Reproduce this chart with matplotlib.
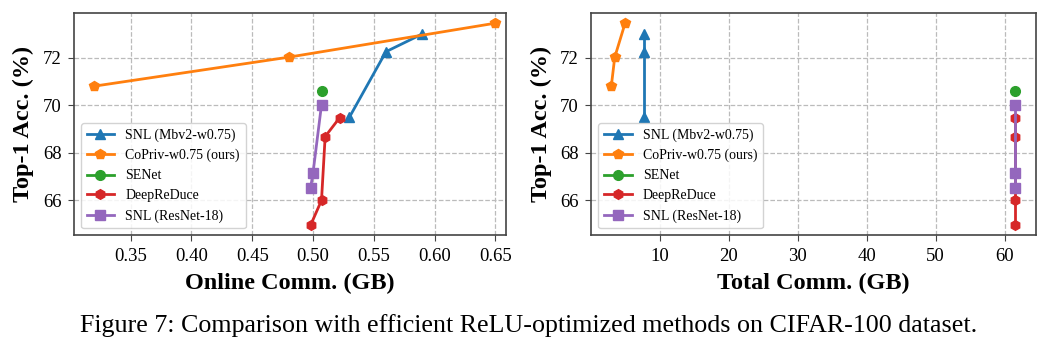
import matplotlib
matplotlib.use("Agg")
import matplotlib.pyplot as plt

# Top-1 accuracy vs communication, CIFAR-100
methods = ["SNL (Mbv2-w0.75)", "CoPriv-w0.75 (ours)", "SENet", "DeepReDuce", "SNL (ResNet-18)"]
colors = ["#1f77b4", "#ff7f0e", "#2ca02c", "#d62728", "#9467bd"]
markers = ["^", "p", "o", "h", "s"]

# online comm (GB)
snl_mbv2_online = [0.53, 0.56, 0.59]
copriv_online = [0.32, 0.48, 0.65]
senet_online = [0.507]
deepreduce_online = [0.498, 0.507, 0.510, 0.522]
snl_r18_online = [0.498, 0.500, 0.507]

# total comm (GB)
snl_mbv2_total = [7.8, 7.8, 7.8]
copriv_total = [3.0, 3.5, 5.0]
senet_total = [61.5]
deepreduce_total = [61.5, 61.5, 61.5, 61.5]
snl_r18_total = [61.5, 61.5, 61.5]

# accuracy (%)
snl_mbv2_acc = [69.5, 72.25, 73.0]
copriv_acc = [70.8, 72.02, 73.45]
senet_acc = [70.58]
deepreduce_acc = [64.95, 66.0, 68.68, 69.48]
snl_r18_acc = [66.52, 67.15, 70.02]

online = [snl_mbv2_online, copriv_online, senet_online, deepreduce_online, snl_r18_online]
total = [snl_mbv2_total, copriv_total, senet_total, deepreduce_total, snl_r18_total]
accs = [snl_mbv2_acc, copriv_acc, senet_acc, deepreduce_acc, snl_r18_acc]

plt.rcParams["font.family"] = ["Liberation Serif", "DejaVu Serif"]

fig = plt.figure(figsize=(10.58, 3.47), dpi=100)
ax1 = fig.add_axes([0.070, 0.322, 0.408, 0.640])
ax2 = fig.add_axes([0.559, 0.322, 0.420, 0.640])

for ax, xs, xlabel in [(ax1, online, "Online Comm. (GB)"), (ax2, total, "Total Comm. (GB)")]:
    for name, c, m, x, y in zip(methods, colors, markers, xs, accs):
        ms = 7.5 if m in ("^", "s") else 7
        ax.plot(x, y, color=c, marker=m, markersize=ms, linewidth=2, label=name)
    ax.set_xlabel(xlabel, fontsize=17.5, fontweight="bold", labelpad=6)
    ax.set_ylabel("Top-1 Acc. (%)", fontsize=17.5, fontweight="bold", labelpad=6)
    ax.set_yticks([66, 68, 70, 72])
    ax.set_ylim(64.53, 73.87)
    ax.tick_params(labelsize=13.5, length=4, pad=5, color="#444444")
    ax.grid(True, linestyle="--", color="#bbbbbb", linewidth=0.9)
    for s in ax.spines.values():
        s.set_color("#444444")
        s.set_linewidth(1.2)
    ax.legend(loc="lower left", fontsize=10, framealpha=0.85, edgecolor="#cccccc")

ax1.set_xlim(0.3035, 0.6585)
ax1.set_xticks([0.35, 0.40, 0.45, 0.50, 0.55, 0.60, 0.65])
ax2.set_xlim(0.12, 64.5)
ax2.set_xticks([10, 20, 30, 40, 50, 60])

fig.text(0.5, 0.062, "Figure 7: Comparison with efficient ReLU-optimized methods on CIFAR-100 dataset.",
         ha="center", va="center", fontsize=18.7)

fig.savefig("out.png", dpi=100)
